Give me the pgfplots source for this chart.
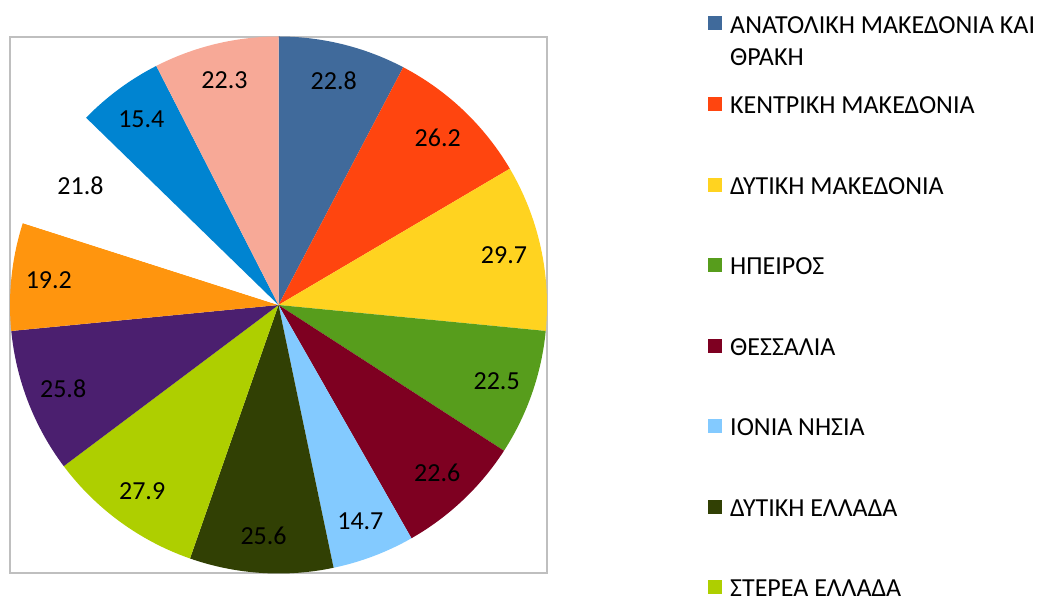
\documentclass[border=0pt]{standalone}
\usepackage{pgfplots}
\pgfplotsset{compat=1.18}
\usepackage{pgfplotstable}
\usepackage{fontspec}
\setmainfont{Carlito}

\definecolor{c1}{HTML}{406A9B}
\definecolor{c2}{HTML}{FF450F}
\definecolor{c3}{HTML}{FFD320}
\definecolor{c4}{HTML}{579D1C}
\definecolor{c5}{HTML}{7E0021}
\definecolor{c6}{HTML}{83CAFF}
\definecolor{c7}{HTML}{314004}
\definecolor{c8}{HTML}{AECF00}
\definecolor{c9}{HTML}{4B1F6F}
\definecolor{c10}{HTML}{FF950E}
\definecolor{c11}{HTML}{FFFFFF}
\definecolor{c12}{HTML}{0084D1}
\definecolor{c13}{HTML}{F7A997}
\definecolor{bordergray}{HTML}{BFBFBF}

\pgfplotstableread{
value color
22.8 c1
26.2 c2
29.7 c3
22.5 c4
22.6 c5
14.7 c6
25.6 c7
27.9 c8
25.8 c9
19.2 c10
21.8 c11
15.4 c12
22.3 c13
}\piedata

\newcommand\lbl{\fontsize{26bp}{30bp}\selectfont}

\begin{document}
\begin{tikzpicture}[x=1bp,y=1bp]
\useasboundingbox (0,0) rectangle (1047,597);
\begin{axis}[at={(0,0)}, anchor=south west, x=1bp, y=1bp,
  xmin=0, xmax=1047, ymin=0, ymax=597, hide axis, clip=false, scale only axis]
\draw[color=bordergray, line width=1.5bp] (axis cs:10,24) rectangle (axis cs:547,560);
\pgfplotstablegetrowsof{\piedata}
\pgfmathtruncatemacro\nrows{\pgfplotsretval-1}
\def\total{0}
\pgfplotsforeachungrouped \i in {0,...,\nrows}{%
  \pgfplotstablegetelem{\i}{value}\of\piedata
  \pgfmathsetmacro\total{\total+\pgfplotsretval}%
}
\def\cum{0}
\pgfplotsforeachungrouped \i in {0,...,\nrows}{%
  \pgfplotstablegetelem{\i}{value}\of\piedata \let\pieval\pgfplotsretval
  \pgfplotstablegetelem{\i}{color}\of\piedata \let\piecol\pgfplotsretval
  \pgfmathsetmacro\sa{90-\cum/\total*360}%
  \pgfmathsetmacro\ea{90-(\cum+\pieval)/\total*360}%
  \pgfmathsetmacro\ma{(\sa+\ea)/2}%
  \pgfmathsetmacro\sx{278.5+268.5*cos(\sa)}%
  \pgfmathsetmacro\sy{292+268.5*sin(\sa)}%
  \pgfmathsetmacro\lx{278.5+231*cos(\ma)}%
  \pgfmathsetmacro\ly{292+231*sin(\ma)}%
  \edef\temp{\noexpand\fill[fill=\piecol] (axis cs:278.5,292) -- (axis cs:\sx,\sy) arc[start angle=\sa, end angle=\ea, radius=268.5bp] -- cycle;
    \noexpand\node[font=\noexpand\lbl, inner sep=0pt, text=black] at (axis cs:\lx,\ly) {\pieval};}%
  \temp
  \pgfmathsetmacro\cum{\cum+\pieval}%
}
\end{axis}
% legend
\begin{scope}[font=\fontsize{26bp}{32bp}\selectfont]
\fill[c1] (708,567) rectangle ++(14,14);
\node[anchor=base west, inner sep=0pt] at (730,563.6) {ΑΝΑΤΟΛΙΚΗ ΜΑΚΕΔΟΝΙΑ ΚΑΙ};
\node[anchor=base west, inner sep=0pt] at (730,531.6) {ΘΡΑΚΗ};
\foreach \yc/\col/\txt in {104/c2/ΚΕΝΤΡΙΚΗ ΜΑΚΕΔΟΝΙΑ, 185/c3/ΔΥΤΙΚΗ ΜΑΚΕΔΟΝΙΑ, 265/c4/ΗΠΕΙΡΟΣ, 346/c5/ΘΕΣΣΑΛΙΑ, 426/c6/ΙΟΝΙΑ ΝΗΣΙΑ, 507/c7/ΔΥΤΙΚΗ ΕΛΛΑΔΑ, 587/c8/ΣΤΕΡΕΑ ΕΛΛΑΔΑ}{
  \fill[\col] (708,{597-\yc-7}) rectangle ++(14,14);
  \node[anchor=base west, inner sep=0pt] at (730,{597-\yc-1-8.4}) {\txt};
}
\end{scope}
\end{tikzpicture}
\end{document}
